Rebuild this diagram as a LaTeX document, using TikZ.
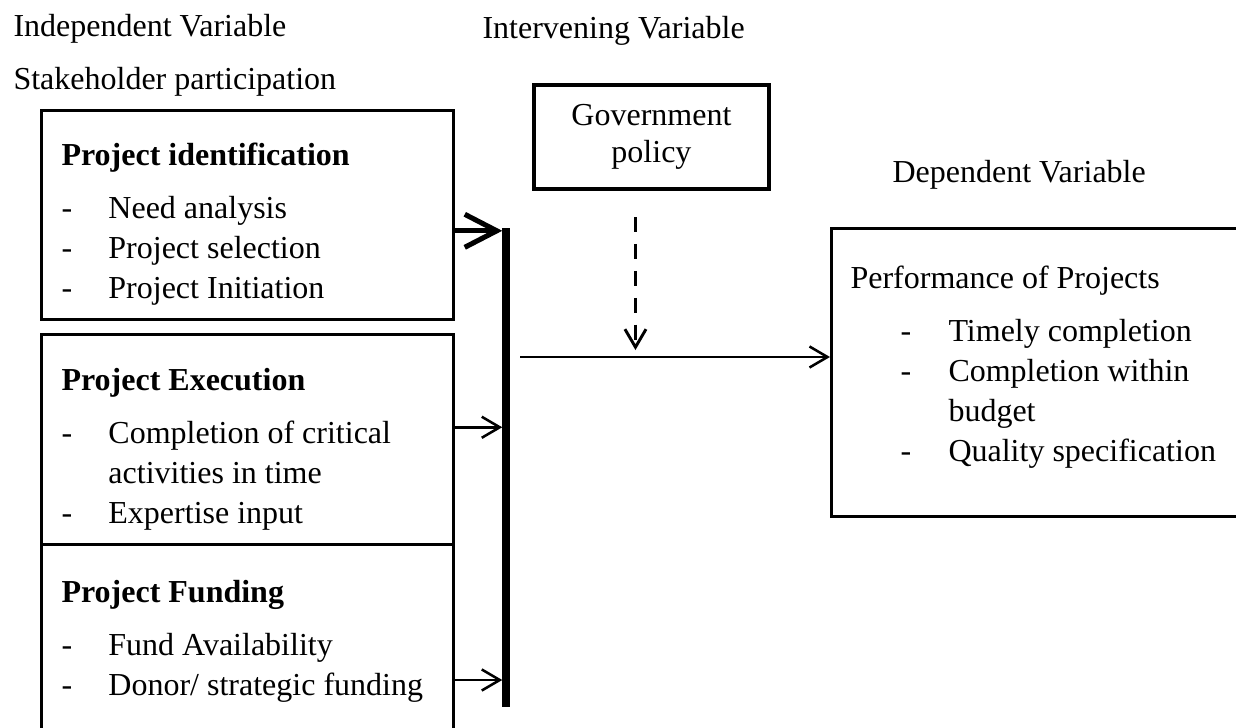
\documentclass[tikz,border=0pt]{standalone}
\usepackage{fontspec}
\setmainfont{Liberation Serif}
\usepackage{tikz}
\usetikzlibrary{arrows.meta, calc, positioning}

\begin{document}
\begin{tikzpicture}[x=0.375pt, y=-0.375pt,
		font=\fontsize{12}{15}\selectfont,
		box/.style={draw, line width=0.95pt, minimum width=154.5pt, anchor=north west, inner sep=0pt},
		txt/.style={anchor=base west, inner sep=0pt},
		thinarrow/.style={-{Straight Barb[length=6.75pt, width=7.9pt]}, line width=0.95pt},
		thickarrow/.style={-{Straight Barb[length=12pt, width=12.4pt]}, line width=1.9pt},
		dasharrow/.style={-{Straight Barb[length=6.75pt, width=7.9pt]}, line width=1.1pt, dash pattern=on 5.6pt off 4.5pt}]
			\path[use as bounding box, clip] (0,0) rectangle (1236,728);
			
			% Headings
			\node[txt] (indep) at (13,36) {Independent Variable};
			\node[txt] (stake) at (13,90) {Stakeholder participation};
			\node[txt] (interv) at (482,38) {Intervening Variable};
			\node[txt] (depvar) at (892,182) {Dependent Variable};
			
			% Independent variable boxes
			\node[box, minimum height=78.4pt] (ident) at (40,109) {};
			\node[box, minimum height=78.75pt] (exec) at (40,333) {};
			\node[box, minimum height=81.4pt] (fund) at (40,543) {};
			
			\node[txt] (identtxt) at ($(ident.north west)+(21,56)$) {\begin{tabular}[t]{@{}p{17.6pt}@{}l@{}}
					\multicolumn{2}{@{}l@{}}{\textbf{Project identification}}\\[5pt]
					- & Need analysis\\
					- & Project selection\\
					- & Project Initiation
				\end{tabular}};
			\node[txt] (exectxt) at ($(exec.north west)+(21,57)$) {\begin{tabular}[t]{@{}p{17.6pt}@{}l@{}}
					\multicolumn{2}{@{}l@{}}{\textbf{Project Execution}}\\[5pt]
					- & Completion of critical\\
					& activities in time\\
					- & Expertise input
				\end{tabular}};
			\node[txt] (fundtxt) at ($(fund.north west)+(21,59)$) {\begin{tabular}[t]{@{}p{17.6pt}@{}l@{}}
					\multicolumn{2}{@{}l@{}}{\textbf{Project Funding}}\\[5pt]
					- & Fund Availability\\
					- & Donor/ strategic funding
				\end{tabular}};
			
			% Intervening variable
			\node[draw, line width=1.5pt, minimum width=88.1pt, minimum height=39pt, anchor=north west, align=center,
				font=\fontsize{12}{13.8}\selectfont] (gov) at (532,83) {Government\\policy};
			
			% Dependent variable
			\node[box, minimum width=157.5pt, minimum height=108pt] (dep) at (830,227) {};
			\node[txt] (deptxt) at ($(dep.north west)+(20,61)$) {\begin{tabular}[t]{@{}p{18.75pt}@{}p{18pt}@{}l@{}}
					\multicolumn{3}{@{}l@{}}{Performance of Projects}\\[5pt]
					& - & Timely completion\\
					& - & Completion within\\
					& & budget\\
					& - & Quality specification
				\end{tabular}};
			
			% Collecting bar
			\coordinate (bartop) at (506,228);
			\coordinate (barbot) at (506,707);
			\draw[line width=2.8pt] (bartop) -- (barbot);
			
			\draw[thickarrow, shorten >=1.4pt] ($(ident.east)+(0,16)$) coordinate (a1) -- (a1 -| bartop);
			\draw[thinarrow, shorten >=1.4pt] ($(exec.east)+(0,-12)$) coordinate (a2) -- (a2 -| bartop);
			\draw[thinarrow, shorten >=1.4pt] ($(fund.north east)+(0,137)$) coordinate (a3) -- (a3 -| bartop);
			
			% To dependent variable
			\coordinate (hstart) at (520,357);
			\draw[thinarrow] (hstart) -- (hstart -| dep.west);
			\draw[dasharrow, shorten >=2.6pt] ($(gov.south)+(-16,26)$) coordinate (d1) -- (d1 |- hstart);
		\end{tikzpicture}
\end{document}
